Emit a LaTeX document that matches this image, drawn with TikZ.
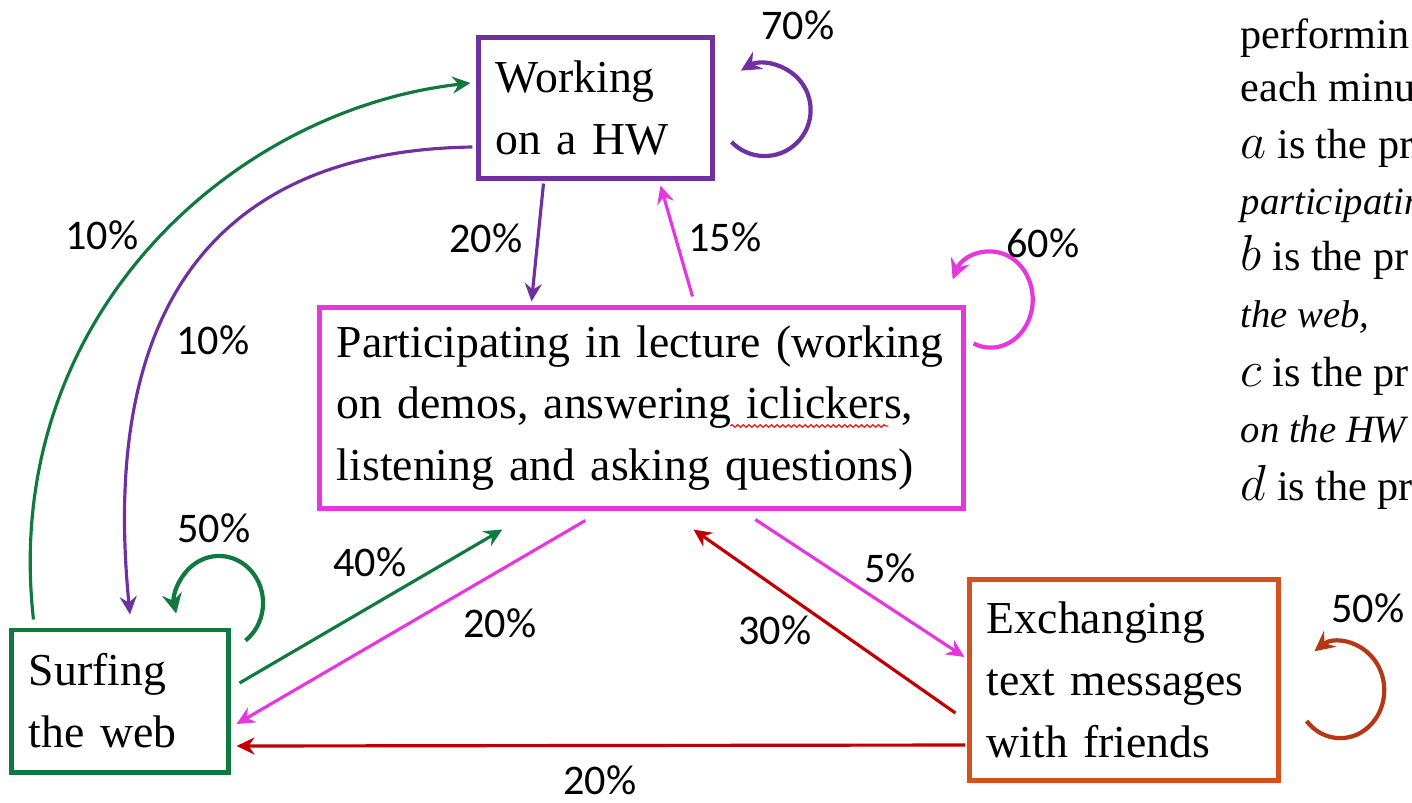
\documentclass[tikz,border=0pt]{standalone}
\usepackage{fontspec}
\setmainfont{Liberation Serif}
\newfontfamily\pctfont{Carlito}
\usetikzlibrary{arrows.meta,calc,decorations.pathmorphing}
\definecolor{hwcol}{RGB}{112,48,160}
\definecolor{webcol}{RGB}{16,122,62}
\definecolor{lectcol}{RGB}{230,55,222}
\definecolor{txtcol}{RGB}{214,80,30}
\definecolor{txtloopcol}{RGB}{180,56,22}
\definecolor{redcol}{RGB}{192,0,0}
\definecolor{spellcol}{RGB}{230,40,40}
\begin{document}
\begin{tikzpicture}[x=0.01cm,y=-0.01cm,
    box/.style={draw,line width=1.4pt,inner xsep=0.17cm,inner ysep=0pt,align=left,
        font=\fontsize{13}{17.6}\selectfont},
    pct/.style={font=\pctfont\fontsize{12}{12}\selectfont,inner sep=0pt},
    side/.style={anchor=base west,inner sep=0pt,font=\fontsize{12}{14}\selectfont},
    sideit/.style={side,font=\fontsize{11}{13}\selectfont\itshape},
    link/.style={line width=0.9pt,-{Stealth[length=0.18cm,width=0.17cm,inset=0.06cm]}},
    selfarc/.style={line width=1.2pt,-{Stealth[length=0.2cm,width=0.2cm,inset=0.07cm]}},
    spell/.style={spellcol,line width=0.4pt,decorate,decoration={snake,amplitude=0.35pt,segment length=1.6pt}}]
    \useasboundingbox (0,0) rectangle (1412,803);

    % states
    \node[box,hwcol,text=black,text width=1.99cm,minimum height=1.40cm] (hw) at (595.5,108) {Working\\on a HW};
    \node[box,lectcol,text=black,text width=6.09cm,minimum height=2.0cm] (lect) at (641.5,408)
        {Participating in lecture (working\\on demos, answering iclickers,\\listening and asking questions)};
    \node[box,webcol,text=black,text width=1.82cm,minimum height=1.42cm] (web) at (120,701) {Surfing\\the web};
    \node[box,txtcol,text=black,text width=2.74cm,minimum height=2.0cm] (txt) at (1124,680) {Exchanging\\text messages\\with friends};
    \draw[spell] ($(lect.west)+(413,18)$) -- ($(lect.west)+(571,18)$);

    % transitions
    \draw[link,webcol] ($(web.north west)+(24,-8)$) .. controls (0,320) and (230,110) .. ($(hw.west)+(-6,-25)$);
    \draw[link,hwcol] ($(hw.west)+(-4,39)$) .. controls (260,150) and (95,260) .. ($(web.north)+(10,-13)$);
    \draw[link,hwcol] ($(hw.south)+(-52,3)$) -- ($(lect.north)+(-110,-4)$);
    \draw[link,lectcol] ($(lect.north)+(51,-9)$) -- ($(hw.south)+(65,5)$);
    \draw[link,webcol] ($(web.east)+(9,-18)$) -- ($(lect.south west)+(185,19)$);
    \draw[link,lectcol] ($(lect.south west)+(268,10)$) -- ($(web.east)+(6,23)$);
    \draw[link,lectcol] ($(lect.south west)+(438,9)$) -- ($(txt.west)+(-3,-23)$);
    \draw[link,redcol] ($(txt.west)+(-12,33)$) -- ($(lect.south)+(52,19)$);
    \draw[link,redcol] ($(txt.west)+(-2,65)$) -- ($(web.east)+(6,45)$);

    % self loops
    \draw[selfarc,hwcol] ($(hw.east)+(17,34)$) arc[start angle=136,end angle=-121,radius=46];
    \draw[selfarc,lectcol] ($(lect.north east)+(8,38)$) arc[start angle=114,end angle=-155,x radius=42,y radius=48];
    \draw[selfarc,webcol] ($(web.north east)+(15,13)$) arc[start angle=53,end angle=-193,x radius=44,y radius=47];
    \draw[selfarc,txtloopcol] ($(txt.east)+(26,41)$) arc[start angle=140,end angle=-126,x radius=44,y radius=48];

    % rates
    \node[pct] (p1) at (102,235) {10\%};
    \node[pct] (p2) at (213,340) {10\%};
    \node[pct] (p3) at (486,238) {20\%};
    \node[pct] (p4) at (725,237) {15\%};
    \node[pct] (p5) at (798,25) {70\%};
    \node[pct] (p6) at (1043,243) {60\%};
    \node[pct] (p7) at (214,528) {50\%};
    \node[pct] (p8) at (370,562) {40\%};
    \node[pct] (p9) at (500,623) {20\%};
    \node[pct] (p10) at (890,568) {5\%};
    \node[pct] (p11) at (775,630) {30\%};
    \node[pct] (p12) at (600,780) {20\%};
    \node[pct] (p13) at (1368,608) {50\%};

    % cut-off text at the right
    \node[side] (r1) at (1240,48) {performin};
    \node[side] (r2) at (1240,101) {each minu};
    \node[side] (r3) at (1240,158) {{\fontsize{15}{15}\selectfont$a$} is the pr};
    \node[sideit] (r4) at (1240,214) {participatin};
    \node[side] (r5) at (1240,270) {{\fontsize{15}{15}\selectfont$b$} is the pr};
    \node[sideit] (r6) at (1240,327) {the web,};
    \node[side] (r7) at (1240,386) {{\fontsize{15}{15}\selectfont$c$} is the pr};
    \node[sideit] (r8) at (1240,442) {on the HW};
    \node[side] (r9) at (1240,500) {{\fontsize{15}{15}\selectfont$d$} is the pr};
\end{tikzpicture}
\end{document}
